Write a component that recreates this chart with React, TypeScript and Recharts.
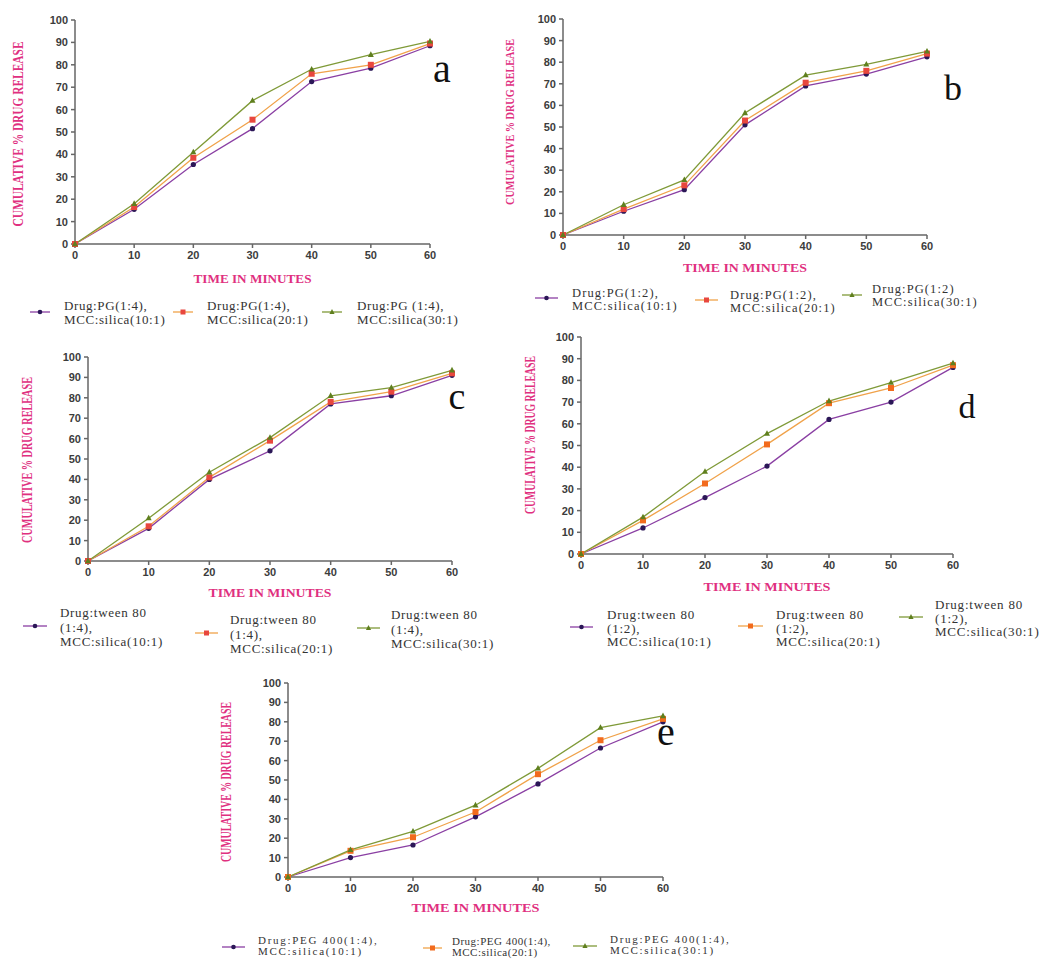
import { LineChart, Line, XAxis, YAxis } from 'recharts';

// time points (minutes) and y ticks
const minutes = [0, 10, 20, 30, 40, 50, 60];
const percentTicks = [0, 10, 20, 30, 40, 50, 60, 70, 80, 90, 100];

// a: Drug:PG (1:4)
const pg14_10 = [0, 15.5, 35.5, 51.5, 72.5, 78.5, 88.5];
const pg14_20 = [0, 16.5, 38.5, 55.5, 76, 80, 89.5];
const pg14_30 = [0, 18, 41, 64, 78, 84.5, 90.5];

// b: Drug:PG (1:2)
const pg12_10 = [0, 11, 21, 51, 69, 74.5, 82.5];
const pg12_20 = [0, 12, 23, 53, 70.5, 76, 84];
const pg12_30 = [0, 14, 25.5, 56.5, 74, 79, 85];

// c: Drug:tween 80 (1:4)
const tw14_10 = [0, 16, 40, 54, 77, 81, 91];
const tw14_20 = [0, 17, 41, 59, 78, 83, 92];
const tw14_30 = [0, 21, 43.5, 60.5, 81, 85, 93.5];

// d: Drug:tween 80 (1:2)
const tw12_10 = [0, 12, 26, 40.5, 62, 70, 86];
const tw12_20 = [0, 15.5, 32.5, 50.5, 69.5, 76.5, 87];
const tw12_30 = [0, 17, 38, 55.5, 70.5, 79, 88];

// e: Drug:PEG 400 (1:4)
const peg14_10 = [0, 10, 16.5, 31, 48, 66.5, 80];
const peg14_20 = [0, 13.5, 20.5, 33.5, 53, 70.5, 81.5];
const peg14_30 = [0, 14, 23.5, 37, 56, 77, 83];

const legendA = [['Drug:PG(1:4),', 'MCC:silica(10:1)'], ['Drug:PG(1:4),', 'MCC:silica(20:1)'], ['Drug:PG (1:4),', 'MCC:silica(30:1)']];
const legendB = [['Drug:PG(1:2),', 'MCC:silica(10:1)'], ['Drug:PG(1:2),', 'MCC:silica(20:1)'], ['Drug:PG(1:2)', 'MCC:silica(30:1)']];
const legendC = [['Drug:tween 80', '(1:4),', 'MCC:silica(10:1)'], ['Drug:tween 80', '(1:4),', 'MCC:silica(20:1)'], ['Drug:tween 80', '(1:4),', 'MCC:silica(30:1)']];
const legendD = [['Drug:tween 80', '(1:2),', 'MCC:silica(10:1)'], ['Drug:tween 80', '(1:2),', 'MCC:silica(20:1)'], ['Drug:tween 80', '(1:2),', 'MCC:silica(30:1)']];
const legendE = [['Drug:PEG 400(1:4),', 'MCC:silica(10:1)'], ['Drug:PEG 400(1:4),', 'MCC:silica(20:1)'], ['Drug:PEG 400(1:4),', 'MCC:silica(30:1)']];

const xTitle = 'TIME IN MINUTES';
const yTitle = 'CUMULATIVE % DRUG RELEASE';

const PINK = '#e0307f';
const LINE1 = '#8a3fa3';
const DOT1 = '#2b1757';
const LINE2 = '#f0a24a';
const LINE3 = '#7f9a38';
const DOT3 = '#5f7f1e';

const toRows = (s1: number[], s2: number[], s3: number[]) =>
  minutes.map((t, i) => ({ t, s1: s1[i], s2: s2[i], s3: s3[i] }));

const circleDot = (p: any) =>
  p.cx == null ? null : <circle key={`c${p.index}`} cx={p.cx} cy={p.cy} r={2.6} fill={DOT1} />;
const squareDot = (color: string) => (p: any) =>
  p.cx == null ? null : <rect key={`s${p.index}`} x={p.cx - 3} y={p.cy - 3} width={6} height={6} fill={color} />;
const triangleDot = (p: any) =>
  p.cx == null ? null : (
    <polygon key={`t${p.index}`} points={`${p.cx},${p.cy - 3.4} ${p.cx - 3},${p.cy + 2.2} ${p.cx + 3},${p.cy + 2.2}`} fill={DOT3} />
  );

const panels = [
  {
    id: 'a', rows: toRows(pg14_10, pg14_20, pg14_30), x0: 75, x60: 430, y100: 20, y0: 244, sq: '#e8473e',
    letter: { x: 442, y: 82, size: 40 }, xt: { y: 283, len: 118 }, yt: { x: 19, y: 134, len: 185, fs: 14 },
    legend: legendA, fs: 13, lh: 14, ls: 0.6,
    items: [{ mx: 30, mw: 20, my: 312, tx: 64, ty: 306 }, { mx: 173, mw: 20, my: 312, tx: 207, ty: 306 }, { mx: 322, mw: 20, my: 312, tx: 357, ty: 306 }],
  },
  {
    id: 'b', rows: toRows(pg12_10, pg12_20, pg12_30), x0: 563, x60: 927, y100: 19, y0: 235, sq: '#e8473e',
    letter: { x: 953, y: 100, size: 36 }, xt: { y: 272, len: 124 }, yt: { x: 510, y: 122, len: 166, fs: 13 },
    legend: legendB, fs: 12.5, lh: 12.5, ls: 1.1,
    items: [{ mx: 535, mw: 23, my: 298, tx: 572, ty: 293 }, { mx: 695, mw: 23, my: 300, tx: 730, ty: 295 }, { mx: 842, mw: 20, my: 295, tx: 872, ty: 289 }],
  },
  {
    id: 'c', rows: toRows(tw14_10, tw14_20, tw14_30), x0: 88, x60: 452, y100: 357, y0: 561, sq: '#e8473e',
    letter: { x: 457, y: 409, size: 38 }, xt: { y: 597, len: 123 }, yt: { x: 28, y: 460, len: 166, fs: 14 },
    legend: legendC, fs: 13, lh: 14.5, ls: 0.7,
    items: [{ mx: 23, mw: 24, my: 626, tx: 60, ty: 613 }, { mx: 195, mw: 23, my: 633, tx: 230, ty: 620 }, { mx: 357, mw: 23, my: 628, tx: 391, ty: 615 }],
  },
  {
    id: 'd', rows: toRows(tw12_10, tw12_20, tw12_30), x0: 581, x60: 953, y100: 337, y0: 554, sq: '#f26b1d',
    letter: { x: 967, y: 418, size: 34 }, xt: { y: 591, len: 127 }, yt: { x: 531, y: 435, len: 158, fs: 14 },
    legend: legendD, fs: 13, lh: 13.5, ls: 0.8,
    items: [{ mx: 570, mw: 23, my: 627, tx: 607, ty: 615 }, { mx: 738, mw: 25, my: 626, tx: 776, ty: 615 }, { mx: 899, mw: 24, my: 617, tx: 935, ty: 605 }],
  },
  {
    id: 'e', rows: toRows(peg14_10, peg14_20, peg14_30), x0: 288, x60: 663, y100: 683, y0: 877, sq: '#f26b1d',
    letter: { x: 666, y: 745, size: 40 }, xt: { y: 912, len: 128 }, yt: { x: 227, y: 782, len: 160, fs: 14 },
    legend: legendE, fs: 11, lh: 11, ls: 1.7,
    items: [{ mx: 222, mw: 23, my: 947, tx: 258, ty: 940 }, { mx: 423, mw: 19, my: 948, tx: 452, ty: 941, ls: 0.5 }, { mx: 573, mw: 24, my: 946, tx: 610, ty: 939 }],
  },
];

const tickStyle = { fill: '#3c3c3c', fontSize: 11, fontWeight: 700, fontFamily: '"Liberation Sans", Arial, sans-serif' };

function Panel({ p }: { p: any }) {
  const YW = 42, MT = 10, MR = 15, XH = 30;
  return (
    <div style={{ position: 'absolute', left: p.x0 - YW, top: p.y100 - MT }}>
      <LineChart
        width={YW + p.x60 - p.x0 + MR}
        height={MT + p.y0 - p.y100 + XH}
        data={p.rows}
        margin={{ top: MT, right: MR, left: 0, bottom: 0 }}
      >
        <XAxis
          dataKey="t"
          type="number"
          domain={[0, 60]}
          ticks={minutes}
          height={XH}
          tickSize={4}
          tickMargin={3}
          stroke="#666"
          strokeWidth={1.5}
          tick={tickStyle}
        />
        <YAxis
          type="number"
          domain={[0, 100]}
          ticks={percentTicks}
          width={YW}
          tickSize={4}
          tickMargin={3}
          stroke="#666"
          strokeWidth={1.5}
          tick={tickStyle}
        />
        <Line dataKey="s1" stroke={LINE1} strokeWidth={1.3} dot={circleDot} isAnimationActive={false} />
        <Line dataKey="s2" stroke={LINE2} strokeWidth={1.3} dot={squareDot(p.sq)} isAnimationActive={false} />
        <Line dataKey="s3" stroke={LINE3} strokeWidth={1.3} dot={triangleDot} isAnimationActive={false} />
      </LineChart>
    </div>
  );
}

function LegendMarker({ i, x, w, y, sq }: { i: number; x: number; w: number; y: number; sq: string }) {
  const cx = x + w / 2;
  const color = i === 0 ? LINE1 : i === 1 ? LINE2 : LINE3;
  return (
    <g>
      <line x1={x} x2={x + w} y1={y} y2={y} stroke={color} strokeWidth={1.3} />
      {i === 0 && <circle cx={cx} cy={y} r={2.3} fill={DOT1} />}
      {i === 1 && <rect x={cx - 2.5} y={y - 2.5} width={5} height={5} fill={sq} />}
      {i === 2 && <polygon points={`${cx},${y - 3} ${cx - 2.6},${y + 2} ${cx + 2.6},${y + 2}`} fill={DOT3} />}
    </g>
  );
}

export default function App() {
  return (
    <div style={{ position: 'absolute', left: 0, top: 0, width: 1050, height: 959, background: '#fff', overflow: 'hidden' }}>
      {panels.map((p) => (
        <Panel key={p.id} p={p} />
      ))}
      <svg width={1050} height={959} style={{ position: 'absolute', left: 0, top: 0, pointerEvents: 'none' }}>
        {panels.map((p) => (
          <g key={p.id}>
            <text
              x={p.letter.x}
              y={p.letter.y}
              textAnchor="middle"
              fontFamily='"Liberation Serif", "Times New Roman", serif'
              fontSize={p.letter.size}
              fill="#111"
            >
              {p.id}
            </text>
            <text
              x={(p.x0 + p.x60) / 2}
              y={p.xt.y}
              textAnchor="middle"
              fontFamily='"Liberation Serif", "Times New Roman", serif'
              fontWeight={700}
              fontSize={12}
              fill={PINK}
              textLength={p.xt.len}
              lengthAdjust="spacingAndGlyphs"
            >
              {xTitle}
            </text>
            <text
              transform={`translate(${p.yt.x},${p.yt.y}) rotate(-90)`}
              x={0}
              y={p.yt.fs * 0.32}
              textAnchor="middle"
              fontFamily='"Liberation Serif", "Times New Roman", serif'
              fontWeight={700}
              fontSize={p.yt.fs}
              fill={PINK}
              textLength={p.yt.len}
              lengthAdjust="spacingAndGlyphs"
            >
              {yTitle}
            </text>
            {p.items.map((it: any, i: number) => (
              <g key={i}>
                <LegendMarker i={i} x={it.mx} w={it.mw} y={it.my} sq={p.sq} />
                {p.legend[i].map((ln: string, j: number) => (
                  <text
                    key={j}
                    x={it.tx}
                    y={it.ty + j * p.lh + p.fs * 0.33}
                    fontFamily='"Liberation Serif", "Times New Roman", serif'
                    fontSize={p.fs}
                    letterSpacing={it.ls ?? p.ls}
                    fill="#333"
                  >
                    {ln}
                  </text>
                ))}
              </g>
            ))}
          </g>
        ))}
      </svg>
    </div>
  );
}
